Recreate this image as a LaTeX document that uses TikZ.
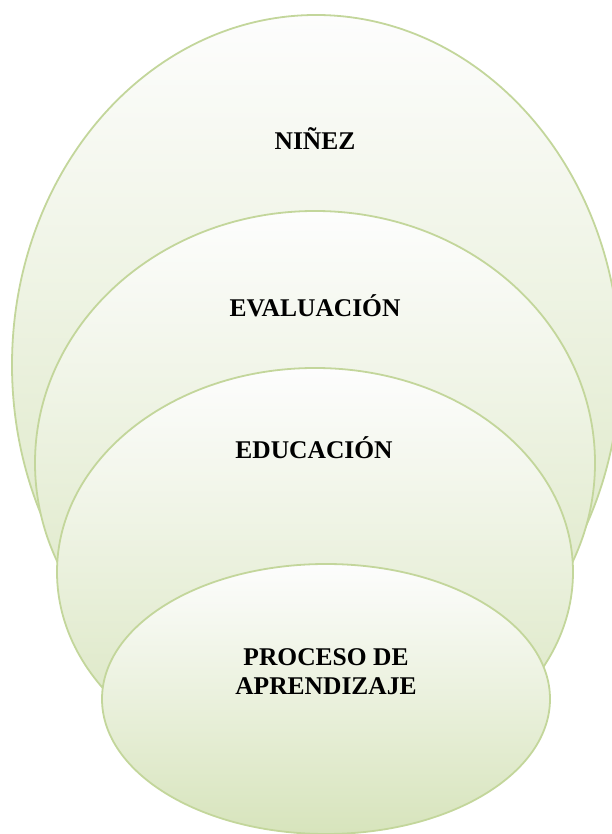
\documentclass[tikz,border=0pt]{standalone}
\usepackage{fontspec}
\setmainfont{Liberation Serif}
\definecolor{rim}{HTML}{C3D69B}
\definecolor{bot}{HTML}{D7E4BC}
\definecolor{topc}{HTML}{FDFDFD}
\begin{document}
\begin{tikzpicture}[x=1pt,y=1pt,
  ring/.style={draw=rim,line width=1.8pt,top color=topc,bottom color=bot},
  lbl/.style={font=\fontsize{25.5}{30}\selectfont\bfseries,anchor=base,align=center,inner sep=0pt}]
\useasboundingbox (0,0) rectangle (612,834);
\path[ring] (316,469) ellipse [x radius=304,y radius=350];
\path[ring] (315,371) ellipse [x radius=280,y radius=252];
\path[ring] (315,262) ellipse [x radius=258,y radius=204];
\path[ring] (326,135) ellipse [x radius=224,y radius=135];
\node[lbl] (ninez) at (315,684) {NIÑEZ};
\node[lbl] (evaluacion) at (315,517) {EVALUACIÓN};
\node[lbl] (educacion) at (314,375) {EDUCACIÓN};
\node[lbl] (proceso) at (326,168) {PROCESO DE};
\node[lbl] (aprendizaje) at (326,139) {APRENDIZAJE};
\end{tikzpicture}
\end{document}
